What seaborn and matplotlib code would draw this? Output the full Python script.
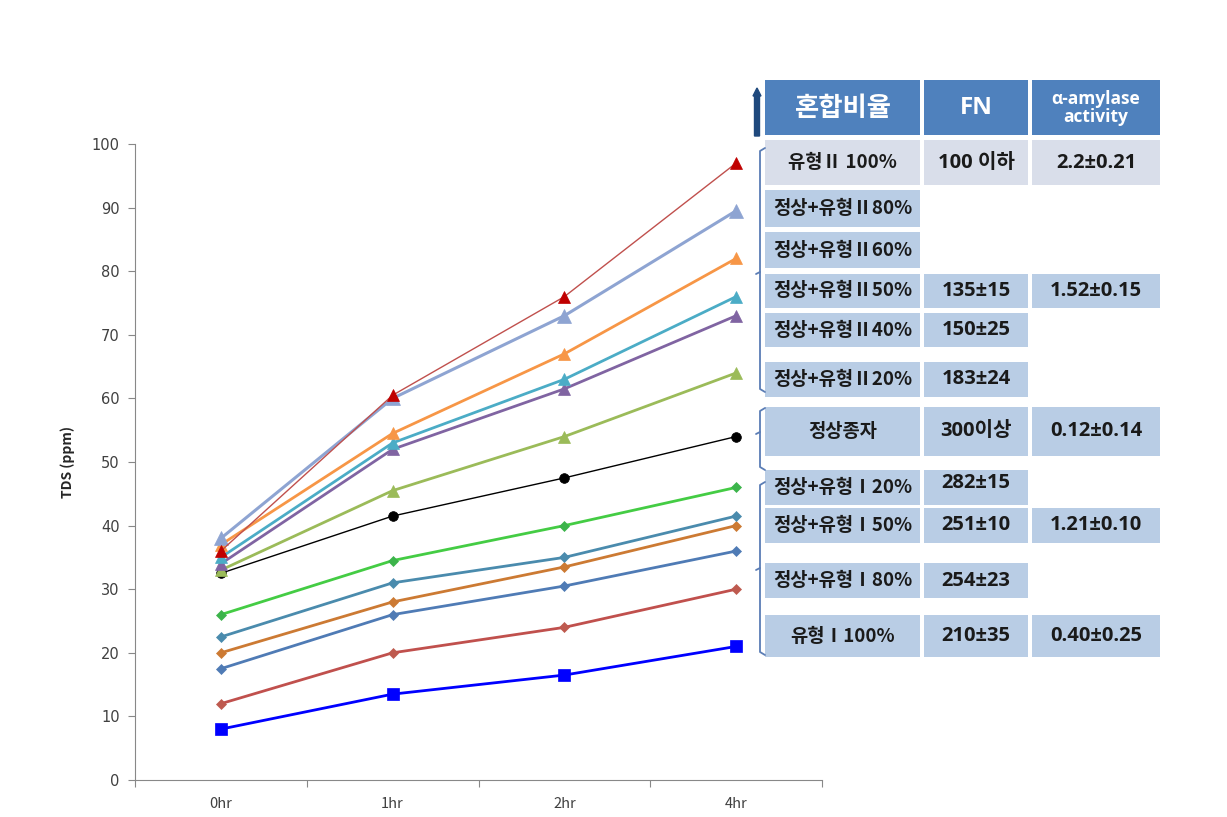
import matplotlib
matplotlib.use("Agg")
import matplotlib.pyplot as plt
import seaborn as sns
import pandas as pd
from matplotlib.patches import Rectangle, FancyArrow
from matplotlib.lines import Line2D

# ---------------- data ----------------
times = ["0hr", "1hr", "2hr", "4hr"]
typeII_100 = [36, 60.5, 76, 97]
typeII_80 = [38, 60, 73, 89.5]
typeII_60 = [37, 54.5, 67, 82]
typeII_50 = [35, 53, 63, 76]
typeII_40 = [34, 52, 61.5, 73]
typeII_20 = [33, 45.5, 54, 64]
normal = [32.5, 41.5, 47.5, 54]
typeI_20 = [26, 34.5, 40, 46]
typeI_50a = [22.5, 31, 35, 41.5]
typeI_50b = [20, 28, 33.5, 40]
typeI_80a = [17.5, 26, 30.5, 36]
typeI_80b = [12, 20, 24, 30]
typeI_100 = [8, 13.5, 16.5, 21]
all_values = [typeII_100, typeII_80, typeII_60, typeII_50, typeII_40, typeII_20,
              normal, typeI_20, typeI_50a, typeI_50b, typeI_80a, typeI_80b, typeI_100]

y_ticks = [0, 10, 20, 30, 40, 50, 60, 70, 80, 90, 100]
y_label = "TDS (ppm)"

table_header = ["혼합비율", "FN", "α-amylase\nactivity"]
table_col1 = ["유형Ⅱ 100%", "정상+유형Ⅱ80%", "정상+유형Ⅱ60%", "정상+유형Ⅱ50%",
              "정상+유형Ⅱ40%", "정상+유형Ⅱ20%", "정상종자", "정상+유형Ⅰ20%",
              "정상+유형Ⅰ50%", "정상+유형Ⅰ80%", "유형Ⅰ100%"]
table_fn = ["100 이하", "", "", "135±15", "150±25", "183±24", "300이상",
            "282±15", "251±10", "254±23", "210±35"]
table_act = ["2.2±0.21", "", "", "1.52±0.15", "", "", "0.12±0.14",
             "", "1.21±0.10", "", "0.40±0.25"]

# ---------------- styles ----------------
styles = [
    dict(color="#C00000", lc="#C0504D", marker="^", ms=9, lw=1.0),
    dict(color="#8EA4D2", lc="#8EA4D2", marker="^", ms=10, lw=2.2),
    dict(color="#F79646", lc="#F79646", marker="^", ms=9, lw=2.0),
    dict(color="#4BACC6", lc="#4BACC6", marker="^", ms=9, lw=2.0),
    dict(color="#8064A2", lc="#8064A2", marker="^", ms=9, lw=2.0),
    dict(color="#9BBB59", lc="#9BBB59", marker="^", ms=9, lw=2.0),
    dict(color="#000000", lc="#000000", marker="o", ms=7, lw=1.0),
    dict(color="#3CB44B", lc="#44CC44", marker="D", ms=5.5, lw=2.0),
    dict(color="#4A8BAD", lc="#4A8BAD", marker="D", ms=5.5, lw=2.0),
    dict(color="#CC7A33", lc="#CC7A33", marker="D", ms=5.5, lw=2.0),
    dict(color="#4F7BB5", lc="#4F7BB5", marker="D", ms=5.5, lw=2.0),
    dict(color="#BE5A4F", lc="#C0504D", marker="D", ms=5.5, lw=2.0),
    dict(color="#0000FF", lc="#0000FF", marker="s", ms=8, lw=2.0),
]

sns.set_theme(style="white")
plt.rcParams["font.family"] = ["Noto Sans CJK KR", "DejaVu Sans"]
TABLE_FONT = ["Open Sans", "Noto Sans CJK KR", "DejaVu Sans"]

W, H = 1227, 817
fig = plt.figure(figsize=(W / 100, H / 100), dpi=100)
ax = fig.add_axes([135 / W, 1 - 780 / H, 687 / W, 636 / H])

xpos = list(range(len(times)))
for vals, st in reversed(list(zip(all_values, styles))):
    df = pd.DataFrame({"x": xpos, "y": vals})
    sns.lineplot(data=df, x="x", y="y", ax=ax, color=st["lc"], lw=st["lw"],
                 marker=st["marker"], markersize=st["ms"], markerfacecolor=st["color"],
                 markeredgecolor=st["color"], markeredgewidth=0.5)

ax.set_xlim(-0.5, 3.5)
ax.set_ylim(0, 100)
ax.set_yticks(y_ticks)
ax.set_yticklabels([str(v) for v in y_ticks], color="#404040", fontsize=10.5,
                   family=["DejaVu Sans"])
ax.set_xticks([-0.5, 0.5, 1.5, 2.5, 3.5])
ax.set_xticklabels([])
ax.set_xticks(xpos, minor=True)
ax.set_xticklabels(times, minor=True, color="#404040", fontsize=10.5)
ax.tick_params(axis="x", which="minor", length=0, pad=12)
ax.tick_params(axis="x", which="major", length=5, width=0.8, color="#888888", direction="out",
               bottom=True)
ax.tick_params(axis="y", length=5, width=0.8, color="#888888", direction="out", left=True, pad=6)
for s in ["top", "right"]:
    ax.spines[s].set_visible(False)
for s in ["left", "bottom"]:
    ax.spines[s].set_color("#888888")
    ax.spines[s].set_linewidth(0.8)
ax.set_xlabel("")
ax.set_ylabel(y_label, fontsize=10, fontweight="bold", labelpad=12)

# ---------------- table ----------------
def fx(x):
    return x / W

def fy(y):
    return 1 - y / H

def rect(x0, y0, x1, y1, color):
    fig.patches.append(Rectangle((fx(x0), fy(y1)), fx(x1) - fx(x0), fy(y0) - fy(y1),
                                 transform=fig.transFigure, facecolor=color,
                                 edgecolor="none", zorder=1))

def txt(x, y, s, **kw):
    fig.text(fx(x), fy(y), s, ha="center", va="center", **kw)

cols = [(765, 920), (924, 1028), (1032, 1160)]
header_color = "#4F81BD"
cell_color = "#B9CDE5"
light_color = "#D9DEEA"
body_fs = 14.5

for (c0, c1) in cols:
    rect(c0, 80, c1, 135, header_color)
txt(843, 108, table_header[0], color="white", fontsize=19, fontweight="bold")
txt(976, 108, table_header[1], color="white", fontsize=17.5, fontweight="bold",
    family=TABLE_FONT)
txt(1096, 108, table_header[2], color="white", fontsize=12.5, fontweight="bold",
    linespacing=1.0, family=TABLE_FONT)

rows = [(140, 185), (190, 227), (232, 268), (274, 308), (313, 347), (362, 397),
        (407, 456), (470, 505), (508, 543), (563, 598), (615, 657)]
for i, (r0, r1) in enumerate(rows):
    ymid = (r0 + r1) / 2
    colr = light_color if i == 0 else cell_color
    rect(cols[0][0], r0, cols[0][1], r1, colr)
    txt((cols[0][0] + cols[0][1]) / 2, ymid, table_col1[i], fontsize=13.5,
        fontweight="bold", color="#1a1a1a")
    if table_fn[i]:
        rect(cols[1][0], r0, cols[1][1], r1, colr)
        txt((cols[1][0] + cols[1][1]) / 2, ymid - (5 if i == 7 else 0), table_fn[i],
            fontsize=body_fs, fontweight="bold", color="#1a1a1a", family=TABLE_FONT)
    if table_act[i]:
        rect(cols[2][0], r0, cols[2][1], r1, colr)
        txt((cols[2][0] + cols[2][1]) / 2, ymid, table_act[i], fontsize=body_fs,
            fontweight="bold", color="#1a1a1a", family=TABLE_FONT)

# brackets
bcol = "#5B7DB5"
def bracket(y0, y1, tip=None):
    xs = [fx(765), fx(760), fx(760), fx(765)]
    ys = [fy(y0), fy(y0 + 3), fy(y1 - 3), fy(y1)]
    fig.lines.append(Line2D(xs, ys, transform=fig.transFigure, color=bcol, lw=1.3))
    if tip is not None:
        fig.lines.append(Line2D([fx(760), fx(756)], [fy(tip), fy(tip + 2)],
                                transform=fig.transFigure, color=bcol, lw=1.3))

bracket(148, 392, 272)
bracket(408, 470, 432)
bracket(482, 655, 568)

# upward arrow
fig.patches.append(FancyArrow(fx(757), fy(136), 0, fy(88) - fy(136), width=fx(5) - fx(0),
                              head_width=fx(8), head_length=(fy(0) - fy(8)),
                              length_includes_head=True, transform=fig.transFigure,
                              color="#1F497D", zorder=2))

fig.savefig("out.png", dpi=100)
